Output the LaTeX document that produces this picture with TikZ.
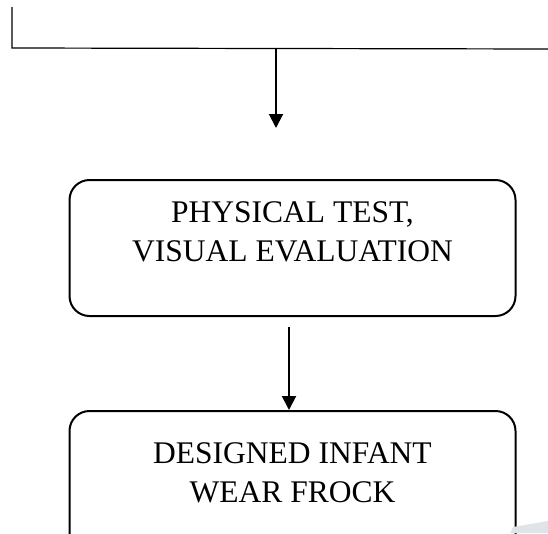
\documentclass[tikz,border=0pt]{standalone}
\usepackage{fontspec}
\setmainfont{Liberation Serif}
\usetikzlibrary{arrows.meta, positioning}
\definecolor{pageshadow}{RGB}{222,228,232}

\begin{document}
\begin{tikzpicture}[x=1pt, y=1pt, auto, node distance=93pt,
 flow/.style={line width=2pt, -{Triangle[length=14pt,width=14pt]}},
 box node/.style={draw, line width=2pt, rounded corners=20pt, align=center,
  minimum width=446pt, minimum height=136pt, text height=59.5pt, text depth=33pt,
  font=\fontsize{31.5}{38.5}\selectfont}]
 \useasboundingbox (0,0) rectangle (548,-533);

  \node[box node] (test) at (292.5,-248) {PHYSICAL TEST,\\ VISUAL EVALUATION};
  \node[box node, minimum height=156pt] (frock) [below=of test] {DESIGNED INFANT\\ WEAR FROCK};

  \coordinate (top) at (12,-7);
  \coordinate (corner) at (12,-48);
  \coordinate (edge) at (548,-49);
  \coordinate (split) at (276,-48);
  \coordinate (tip) at (276,-128);
  \coordinate (tail) at (289,-327);

  \draw[line width=1.2pt] (top) -- (corner) -- (edge);
  \draw[flow] (split) -- (tip);
  \draw[flow] (tail) -- (tail |- frock.north);

  \fill[pageshadow] (513,-527) -- (548,-521) -- (548,-533) -- (510,-533) -- cycle;
 \end{tikzpicture}
\end{document}
